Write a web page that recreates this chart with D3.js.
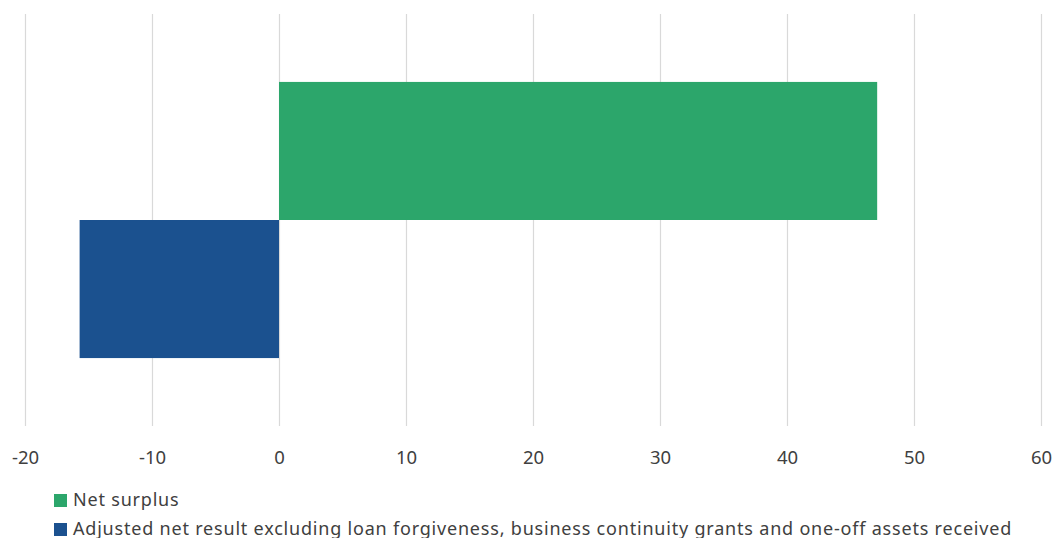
<!DOCTYPE html>
<html>
<head>
<meta charset="utf-8">
<script src="https://cdn.jsdelivr.net/npm/d3@7"></script>
<style>
  body { margin: 0; background: #fff; }
  text { font-family: 'Noto Sans', 'Open Sans', sans-serif; }
</style>
</head>
<body>
<div class="canvas"></div>
<script>
// data
const categories = [''];
const seriesNames = [
  'Net surplus',
  'Adjusted net result excluding loan forgiveness, business continuity grants and one-off assets received'
];
const seriesValues = [47.1, -15.7];
const seriesColors = ['#2ca66b', '#1b518f'];
const tickValues = [-20, -10, 0, 10, 20, 30, 40, 50, 60];

const dims = { width: 1056, height: 538 };
const plot = { left: 25, right: 1041, top: 14, bottom: 426 };

const svg = d3.select('.canvas')
  .append('svg')
  .attr('width', dims.width)
  .attr('height', dims.height);

const x = d3.scaleLinear()
  .domain([-20, 60])
  .range([plot.left, plot.right]);

const y0 = d3.scaleBand()
  .domain(categories)
  .range([plot.top, plot.bottom])
  .paddingInner(0)
  .paddingOuter(0.246);

const y1 = d3.scaleBand()
  .domain(seriesNames)
  .range([0, y0.bandwidth()]);

// gridlines
svg.append('g')
  .selectAll('line')
  .data(tickValues)
  .enter()
  .append('line')
  .attr('x1', d => x(d) + 0.5)
  .attr('x2', d => x(d) + 0.5)
  .attr('y1', plot.top)
  .attr('y2', plot.bottom)
  .attr('stroke', '#d9d9d9')
  .attr('stroke-width', 1.2);

// bars
const rows = seriesNames.map((name, i) => ({ name, value: seriesValues[i], color: seriesColors[i] }));

svg.append('g')
  .selectAll('rect')
  .data(rows)
  .enter()
  .append('rect')
  .attr('x', d => x(Math.min(0, d.value)))
  .attr('width', d => Math.abs(x(d.value) - x(0)))
  .attr('y', d => y0(categories[0]) + y1(d.name))
  .attr('height', y1.bandwidth())
  .attr('fill', d => d.color);

// axis labels (plain hyphen for negatives, like the original)
const xAxis = d3.axisBottom(x)
  .tickValues(tickValues)
  .tickFormat(d => String(d))
  .tickSize(0)
  .tickPadding(0);
const axisG = svg.append('g')
  .attr('transform', `translate(0, ${plot.bottom + 25})`)
  .call(xAxis);
axisG.select('.domain').remove();
axisG.selectAll('text')
  .attr('font-size', '18.5px')
  .attr('fill', '#404040')
  .attr('font-family', "'Noto Sans', sans-serif");

// legend
const legend = svg.append('g')
  .attr('transform', 'translate(54, 494)');

const items = legend.selectAll('g')
  .data(rows)
  .enter()
  .append('g')
  .attr('transform', (d, i) => `translate(0, ${i * 29})`);

items.append('rect')
  .attr('width', 13)
  .attr('height', 13)
  .attr('fill', d => d.color);

items.append('text')
  .attr('x', 19)
  .attr('y', 12)
  .attr('font-size', '18px')
  .attr('letter-spacing', '0.8px')
  .attr('fill', '#404040')
  .text(d => d.name);
</script>
</body>
</html>
